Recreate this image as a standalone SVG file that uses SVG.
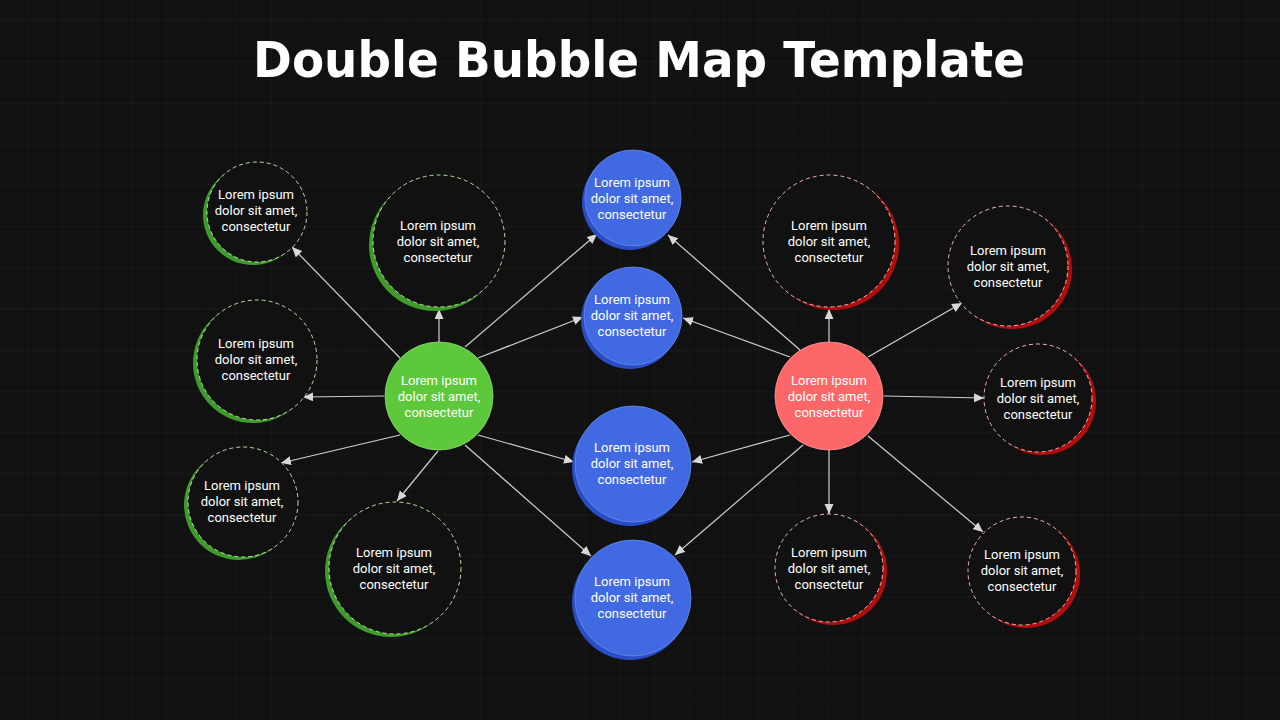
<svg xmlns="http://www.w3.org/2000/svg" width="1280" height="720" viewBox="0 0 1280 720">
  <style>
    .bg { fill: #111111; }
    .title { font-family: "DejaVu Sans", "Liberation Sans", sans-serif; font-weight: bold; font-size: 50px; fill: #ffffff; }
    .lbl { font-family: Roboto, "Liberation Sans", sans-serif; font-size: 13px; fill: #ffffff; text-anchor: middle; }
    .conn { stroke: #cfcfcf; stroke-width: 1.2; fill: none; marker-end: url(#arrow); }
    .gsh { fill: #3f9a2c; }
    .rsh { fill: #b00d0d; }
    .gsat { fill: #111111; stroke: #b9e2a4; stroke-width: 1; stroke-dasharray: 4 3; }
    .rsat { fill: #111111; stroke: #f2b3b3; stroke-width: 1; stroke-dasharray: 4 3; }
    .bsh { fill: #2a4cc4; }
    .bmain { fill: #4169e1; stroke: #6a8bef; stroke-width: 0.8; }
    .ghub { fill: #5ec83c; stroke: #8fdc74; stroke-width: 0.8; }
    .rhub { fill: #fe6767; stroke: #ff9a9a; stroke-width: 0.8; }
  </style>
  <defs>
    <marker id="arrow" markerUnits="userSpaceOnUse" markerWidth="12" markerHeight="10" refX="10" refY="4.5" orient="auto">
      <path d="M0,0 L10,4.5 L0,9 Z" fill="#d8d8d8"/>
    </marker>
    <pattern id="grid" patternUnits="userSpaceOnUse" x="27" y="0" width="34.84" height="41.2">
      <path d="M0,0 V41.2 M0,20.6 H34.84 M0,0 H34.84" stroke="#1b1b1b" stroke-width="1" fill="none"/>
    </pattern>
  </defs>

  <rect class="bg" x="0" y="0" width="1280" height="720"/>
  <rect x="0" y="0" width="1280" height="720" fill="url(#grid)"/>

  <text class="title" x="639" y="77" text-anchor="middle" textLength="772" lengthAdjust="spacingAndGlyphs">Double Bubble Map Template</text>

  <g id="connectors">
    <line class="conn" x1="400" y1="358" x2="292" y2="247"/>
    <line class="conn" x1="439" y1="342" x2="439" y2="309"/>
    <line class="conn" x1="465" y1="347" x2="597" y2="234"/>
    <line class="conn" x1="478" y1="358" x2="583" y2="317"/>
    <line class="conn" x1="384" y1="396" x2="303" y2="397"/>
    <line class="conn" x1="400" y1="435" x2="281" y2="463"/>
    <line class="conn" x1="438" y1="451" x2="397" y2="501"/>
    <line class="conn" x1="478" y1="435" x2="574" y2="462"/>
    <line class="conn" x1="465" y1="445" x2="591" y2="556"/>

    <line class="conn" x1="800" y1="350" x2="668" y2="235"/>
    <line class="conn" x1="790" y1="357" x2="683" y2="318"/>
    <line class="conn" x1="829" y1="342" x2="829" y2="309"/>
    <line class="conn" x1="868" y1="357" x2="962" y2="303"/>
    <line class="conn" x1="884" y1="396" x2="984" y2="398"/>
    <line class="conn" x1="790" y1="435" x2="692" y2="462"/>
    <line class="conn" x1="803" y1="445" x2="675" y2="555"/>
    <line class="conn" x1="829" y1="450" x2="829" y2="514"/>
    <line class="conn" x1="868" y1="436" x2="983" y2="532"/>
  </g>

  <!-- Green hub -->
  <g id="green-hub">
    <circle class="ghub" cx="439" cy="396" r="54"/>
    <text class="lbl" x="439"><tspan x="439" y="385">Lorem ipsum</tspan><tspan x="439" y="401">dolor sit amet,</tspan><tspan x="439" y="417">consectetur</tspan></text>
  </g>

  <!-- Red hub -->
  <g id="red-hub">
    <circle class="rhub" cx="829" cy="396" r="54"/>
    <text class="lbl"><tspan x="829" y="385">Lorem ipsum</tspan><tspan x="829" y="401">dolor sit amet,</tspan><tspan x="829" y="417">consectetur</tspan></text>
  </g>

  <!-- Blue common bubbles -->
  <g id="common-1">
    <circle class="bsh" cx="630" cy="202" r="48"/>
    <circle class="bmain" cx="633" cy="198" r="48"/>
    <text class="lbl"><tspan x="632" y="187">Lorem ipsum</tspan><tspan x="632" y="203">dolor sit amet,</tspan><tspan x="632" y="219">consectetur</tspan></text>
  </g>
  <g id="common-2">
    <circle class="bsh" cx="630" cy="320" r="49"/>
    <circle class="bmain" cx="633" cy="316" r="49"/>
    <text class="lbl"><tspan x="632" y="304">Lorem ipsum</tspan><tspan x="632" y="320">dolor sit amet,</tspan><tspan x="632" y="336">consectetur</tspan></text>
  </g>
  <g id="common-3">
    <circle class="bsh" cx="630" cy="468" r="58"/>
    <circle class="bmain" cx="633" cy="464" r="58"/>
    <text class="lbl"><tspan x="632" y="452">Lorem ipsum</tspan><tspan x="632" y="468">dolor sit amet,</tspan><tspan x="632" y="484">consectetur</tspan></text>
  </g>
  <g id="common-4">
    <circle class="bsh" cx="630" cy="602" r="58"/>
    <circle class="bmain" cx="633" cy="598" r="58"/>
    <text class="lbl"><tspan x="632" y="586">Lorem ipsum</tspan><tspan x="632" y="602">dolor sit amet,</tspan><tspan x="632" y="618">consectetur</tspan></text>
  </g>

  <!-- Green satellites -->
  <g id="green-1">
    <circle class="gsh" cx="253" cy="215" r="50"/>
    <circle class="gsat" cx="257" cy="212" r="50"/>
    <text class="lbl"><tspan x="256" y="199">Lorem ipsum</tspan><tspan x="256" y="215">dolor sit amet,</tspan><tspan x="256" y="231">consectetur</tspan></text>
  </g>
  <g id="green-2">
    <circle class="gsh" cx="435" cy="245" r="66"/>
    <circle class="gsat" cx="439" cy="241" r="66"/>
    <text class="lbl"><tspan x="438" y="230">Lorem ipsum</tspan><tspan x="438" y="246">dolor sit amet,</tspan><tspan x="438" y="262">consectetur</tspan></text>
  </g>
  <g id="green-3">
    <circle class="gsh" cx="253" cy="363" r="60"/>
    <circle class="gsat" cx="257" cy="360" r="60"/>
    <text class="lbl"><tspan x="256" y="348">Lorem ipsum</tspan><tspan x="256" y="364">dolor sit amet,</tspan><tspan x="256" y="380">consectetur</tspan></text>
  </g>
  <g id="green-4">
    <circle class="gsh" cx="239" cy="505" r="55"/>
    <circle class="gsat" cx="243" cy="502" r="55"/>
    <text class="lbl"><tspan x="242" y="490">Lorem ipsum</tspan><tspan x="242" y="506">dolor sit amet,</tspan><tspan x="242" y="522">consectetur</tspan></text>
  </g>
  <g id="green-5">
    <circle class="gsh" cx="391" cy="571" r="66"/>
    <circle class="gsat" cx="395" cy="568" r="66"/>
    <text class="lbl"><tspan x="394" y="557">Lorem ipsum</tspan><tspan x="394" y="573">dolor sit amet,</tspan><tspan x="394" y="589">consectetur</tspan></text>
  </g>

  <!-- Red satellites -->
  <g id="red-1">
    <circle class="rsh" cx="833" cy="244" r="66"/>
    <circle class="rsat" cx="829" cy="241" r="66"/>
    <text class="lbl"><tspan x="829" y="230">Lorem ipsum</tspan><tspan x="829" y="246">dolor sit amet,</tspan><tspan x="829" y="262">consectetur</tspan></text>
  </g>
  <g id="red-2">
    <circle class="rsh" cx="1012" cy="269" r="60"/>
    <circle class="rsat" cx="1008" cy="266" r="60"/>
    <text class="lbl"><tspan x="1008" y="255">Lorem ipsum</tspan><tspan x="1008" y="271">dolor sit amet,</tspan><tspan x="1008" y="287">consectetur</tspan></text>
  </g>
  <g id="red-3">
    <circle class="rsh" cx="1042" cy="401" r="54"/>
    <circle class="rsat" cx="1038" cy="398" r="54"/>
    <text class="lbl"><tspan x="1038" y="387">Lorem ipsum</tspan><tspan x="1038" y="403">dolor sit amet,</tspan><tspan x="1038" y="419">consectetur</tspan></text>
  </g>
  <g id="red-4">
    <circle class="rsh" cx="833" cy="571" r="54"/>
    <circle class="rsat" cx="829" cy="568" r="54"/>
    <text class="lbl"><tspan x="829" y="557">Lorem ipsum</tspan><tspan x="829" y="573">dolor sit amet,</tspan><tspan x="829" y="589">consectetur</tspan></text>
  </g>
  <g id="red-5">
    <circle class="rsh" cx="1026" cy="574" r="54"/>
    <circle class="rsat" cx="1022" cy="571" r="54"/>
    <text class="lbl"><tspan x="1022" y="559">Lorem ipsum</tspan><tspan x="1022" y="575">dolor sit amet,</tspan><tspan x="1022" y="591">consectetur</tspan></text>
  </g>
</svg>
